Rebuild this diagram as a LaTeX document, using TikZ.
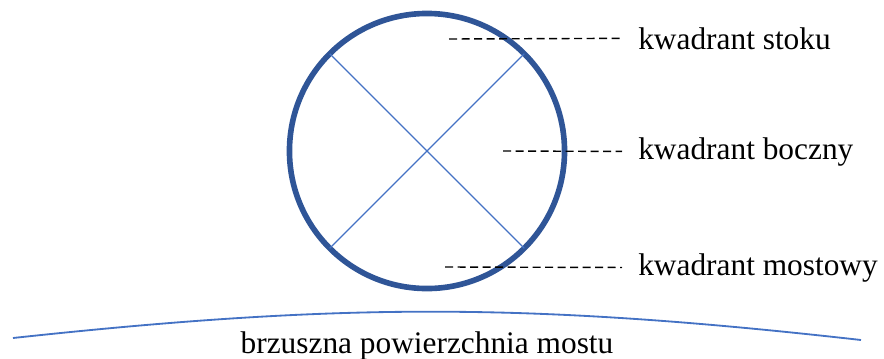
\documentclass[tikz,border=0pt]{standalone}
\usepackage{fontspec}
\setmainfont{Liberation Serif}
\definecolor{ringblue}{HTML}{2F5597}
\definecolor{lineblue}{HTML}{4472C4}

\begin{document}
\begin{tikzpicture}[
        x = 0.025cm, y = -0.025cm,
        every node/.style = {font = \fontsize{22.3}{27}\selectfont},
        ring/.style = {circle, draw = ringblue, line width = 4pt, minimum size = 6.875cm, inner sep = 0pt, outer sep = 0pt},
        cross/.style = {draw = lineblue, line width = 0.8pt},
        leader/.style = {draw = black, line width = 1pt, dash pattern = on 5.7pt off 3.2pt, shorten > = 0.4cm},
        quadrant/.style = {anchor = base west, inner sep = 0pt},
        surface/.style = {draw = lineblue, line width = 1.3pt}
    ]
    \useasboundingbox (0,0) rectangle (884,358);

    \node[ring] (pipe) at (427,151) {};

    \path[cross]
        (pipe.north west) -- (pipe.south east)
        (pipe.north east) -- (pipe.south west);

    % labels of the quadrants
    \node[quadrant] (stoku)   at (638,49)  {kwadrant stoku};
    \node[quadrant] (boczny)  at (638,159) {kwadrant boczny};
    \node[quadrant] (mostowy) at (638,275) {kwadrant mostowy};

    \coordinate (lead stoku)   at (449,39);
    \coordinate (lead boczny)  at (503,151);
    \coordinate (lead mostowy) at (445,267);

    \path
        (lead stoku)   edge [leader] (stoku.west)
        (lead boczny)  edge [leader] (boczny.west)
        (lead mostowy) edge [leader] (mostowy.west);

    % bridge surface
    \coordinate (surf west) at (13,338);
    \coordinate (surf east) at (861,340);
    \path[surface] (surf west) to[bend left = 6.3] (surf east);

    \node[anchor = base] (surf label) at (427,353) {brzuszna powierzchnia mostu};
\end{tikzpicture}
\end{document}
